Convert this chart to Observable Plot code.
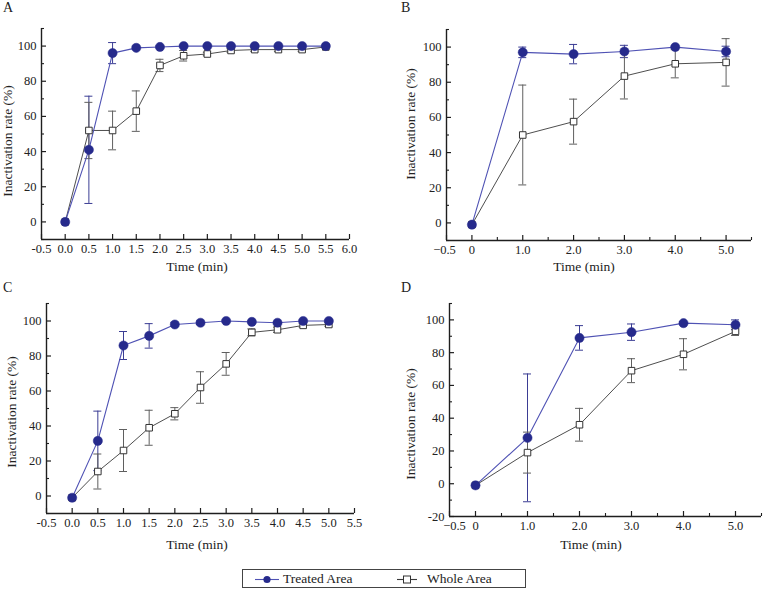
<!DOCTYPE html>
<html><head><meta charset="utf-8">
<script src="https://cdn.jsdelivr.net/npm/d3@7"></script>
<script src="https://cdn.jsdelivr.net/npm/@observablehq/plot@0.6"></script>
<style>
body{margin:0;background:#fff;}
#fig{position:relative;width:765px;height:591px;color:#222;overflow:hidden;}
#fig, #fig div, #fig svg, #fig svg text{font-family:"Liberation Serif","Tinos","Times New Roman","DejaVu Serif",serif !important;}
.abs{position:absolute;white-space:nowrap;}
.ctr{transform:translate(-50%,-50%);font-size:13.5px;line-height:14px;}
.rot{transform:translate(-50%,-50%) rotate(-90deg);font-size:13.5px;line-height:14px;}
.let{font-size:14px;line-height:14px;}
.leg{font-size:13.5px;line-height:16px;}
</style></head><body><div id="fig"></div>
<script>
// ---------- Data ----------
// Panel A
const timeA = [0,0.5,1,1.5,2,2.5,3,3.5,4,4.5,5,5.5];
const treatedA = [0,41,96,99,99.5,100,100,100,100,100,100,100];
const treatedErrA = [0,30.5,6,1,0.5,0.5,0.5,0.5,0.5,0.5,0.5,0.5];
const wholeA = [0,52,52,63,89,94.5,95.5,97.5,98,98,98,99.5];
const wholeErrA = [0,16,11,11.5,3.5,3,1,1,1,1,1,0.5];
// Panel B
const timeB = [0,1,2,3,4,5];
const treatedB = [-1,97,96,97.5,100,97.5];
const treatedErrB = [0,3,5.5,3.5,0.5,3];
const wholeB = [-1,50,57.6,83.5,90.5,91.3];
const wholeErrB = [0,28.4,12.8,13,8,13.5];
// Panel C
const timeC = [0,0.5,1,1.5,2,2.5,3,3.5,4,4.5,5];
const treatedC = [-1,31.5,86,91.5,98,99,100,99.5,99,100,100];
const treatedErrC = [0,17,8,7,1,1,0.5,0.5,0.5,0.5,0.5];
const wholeC = [-1,14,26,39,47,62,75.5,93.5,95,97.5,98];
const wholeErrC = [0,10,12,10,3.5,9,6.5,2,1.5,1,1];
// Panel D
const timeD = [0,1,2,3,4,5];
const treatedD = [-1,28,89,92.5,98,97];
const treatedErrD = [0,39,7.5,5,1,3];
const wholeD = [-1,19,36,69,79,93];
const wholeErrD = [0,12.5,10,7.3,9.5,2.5];

// Tick values and labels
const xTicksA = [-0.5,0,0.5,1,1.5,2,2.5,3,3.5,4,4.5,5,5.5,6];
const xLabelsA = ["-0.5","0.0","0.5","1.0","1.5","2.0","2.5","3.0","3.5","4.0","4.5","5.0","5.5","6.0"];
const xTicksC = [-0.5,0,0.5,1,1.5,2,2.5,3,3.5,4,4.5,5,5.5];
const xLabelsC = ["-0.5","0.0","0.5","1.0","1.5","2.0","2.5","3.0","3.5","4.0","4.5","5.0","5.5"];
const xTicksBD = [-0.5,0,1,2,3,4,5];
const xLabelsBD = ["\u22120.5","0","1.0","2.0","3.0","4.0","5.0"];
const xMinorBD = [0.5,1.5,2.5,3.5,4.5,5.5];
const yTicks = [0,20,40,60,80,100];
const yLabels = ["0","20","40","60","80","100"];
const yTicksD = [-20,0,20,40,60,80,100];
const yLabelsD = ["-20","0","20","40","60","80","100"];
const yMinor = [-10,10,30,50,70,90,110];

const seriesNames = ["Treated Area","Whole Area"];
const panelLetters = ["A","B","C","D"];
const xTitle = "Time (min)";
const yTitle = "Inactivation rate (%)";

// ---------- Styles ----------
const FONT = "'Liberation Serif','Tinos','Times New Roman','DejaVu Serif',serif";
const NAVY = "#262a8c", NAVY_LINE = "#4f52b4", NAVY_ERR = "#3b3d94";
const GRAY_LINE = "#3a3a3a", GRAY_ERR = "#5f5f5f", AXIS = "#1e1e1e";

function panel(cfg) {
  const {times, treated, treatedErr, whole, wholeErr, xDomain, yDomain,
         xTicks, xLabels, xMinor, yT, yL, width, height, m, firstLabelDx = 0} = cfg;
  const rows = (vals, errs) => times.map((t, i) => ({t, v: vals[i], e: errs[i], lo: vals[i] - errs[i], hi: vals[i] + errs[i]}));
  const T = rows(treated, treatedErr), W = rows(whole, wholeErr);
  const Te = T.filter(d => d.e > 0), We = W.filter(d => d.e > 0);
  const fh = height - m.top - m.bottom, fw = width - m.left - m.right;
  const caps = (data, stroke) => [
    Plot.ruleX(data, {x: "t", y1: "lo", y2: "hi", stroke, strokeWidth: 1}),
    Plot.ruleY(data, {y: "hi", x1: "t", x2: "t", insetLeft: -4, insetRight: -4, stroke, strokeWidth: 1}),
    Plot.ruleY(data, {y: "lo", x1: "t", x2: "t", insetLeft: -4, insetRight: -4, stroke, strokeWidth: 1})
  ];
  const fmtX = d => xLabels[xTicks.indexOf(d)];
  const svg = Plot.plot({
    width, height,
    marginLeft: m.left, marginRight: m.right, marginTop: m.top, marginBottom: m.bottom,
    x: {domain: xDomain}, y: {domain: yDomain},
    style: {fontFamily: FONT, fontSize: "12.5px", color: "#222", background: "transparent", overflow: "visible"},
    marks: [
      Plot.axisX({ticks: xTicks.slice(1), tickFormat: fmtX, tickSize: 0, tickPadding: 5, label: null, fontFamily: FONT}),
      Plot.axisX({ticks: xTicks.slice(0, 1), tickFormat: fmtX, tickSize: 0, tickPadding: 5, label: null, dx: firstLabelDx, fontFamily: FONT}),
      Plot.axisY({ticks: yT, tickFormat: d => yL[yT.indexOf(d)], tickSize: 0, tickPadding: 5, label: null, fontFamily: FONT}),
      Plot.tickX(xTicks, {x: d => d, insetTop: fh - 5, stroke: AXIS, strokeWidth: 1.2}),
      Plot.tickX(xMinor, {x: d => d, insetTop: fh - 3, stroke: AXIS, strokeWidth: 1.1}),
      Plot.tickY(yT, {y: d => d, insetRight: fw - 5, stroke: AXIS, strokeWidth: 1.2}),
      Plot.tickY(yMinor, {y: d => d, insetRight: fw - 3, stroke: AXIS, strokeWidth: 1.1}),
      Plot.ruleX([xDomain[0]], {stroke: AXIS, strokeWidth: 1.4}),
      Plot.ruleY([yDomain[0]], {stroke: AXIS, strokeWidth: 1.4}),
      ...caps(Te, NAVY_ERR),
      ...caps(We, GRAY_ERR),
      Plot.line(W, {x: "t", y: "v", stroke: GRAY_LINE, strokeWidth: 0.9}),
      Plot.line(T, {x: "t", y: "v", stroke: NAVY_LINE, strokeWidth: 1.1}),
      Plot.dot(W, {x: "t", y: "v", symbol: "square", r: 3.7, fill: "white", stroke: "#333", strokeWidth: 1}),
      Plot.dot(T, {x: "t", y: "v", r: 4.6, fill: NAVY, stroke: NAVY, strokeWidth: 0.5})
    ]
  });
  svg.style.position = "absolute";
  svg.style.left = cfg.left + "px";
  svg.style.top = cfg.top + "px";
  return svg;
}

const fig = document.getElementById("fig");
function addText(txt, x, y, cls) {
  const d = document.createElement("div");
  d.className = "abs " + cls;
  d.textContent = txt;
  d.style.left = x + "px";
  d.style.top = y + "px";
  fig.appendChild(d);
  return d;
}

fig.appendChild(panel({times: timeA, treated: treatedA, treatedErr: treatedErrA, whole: wholeA, wholeErr: wholeErrA,
  xDomain: [-0.5, 6], yDomain: [-10, 110], xTicks: xTicksA, xLabels: xLabelsA, xMinor: [], yT: yTicks, yL: yLabels,
  width: 380, height: 262, m: {left: 41, right: 31, top: 28, bottom: 23}, left: 0, top: 0}));
fig.appendChild(panel({times: timeB, treated: treatedB, treatedErr: treatedErrB, whole: wholeB, wholeErr: wholeErrB,
  xDomain: [-0.5, 5.5], yDomain: [-10, 110], xTicks: xTicksBD, xLabels: xLabelsBD, xMinor: xMinorBD, yT: yTicks, yL: yLabels,
  width: 385, height: 262, m: {left: 66, right: 14, top: 29, bottom: 22}, left: 380, top: 0, firstLabelDx: -2}));
fig.appendChild(panel({times: timeC, treated: treatedC, treatedErr: treatedErrC, whole: wholeC, wholeErr: wholeErrC,
  xDomain: [-0.5, 5.5], yDomain: [-10, 110], xTicks: xTicksC, xLabels: xLabelsC, xMinor: [], yT: yTicks, yL: yLabels,
  width: 380, height: 255, m: {left: 46, right: 26, top: 23, bottom: 22}, left: 0, top: 280}));
fig.appendChild(panel({times: timeD, treated: treatedD, treatedErr: treatedErrD, whole: wholeD, wholeErr: wholeErrD,
  xDomain: [-0.5, 5.5], yDomain: [-20, 110], xTicks: xTicksBD, xLabels: xLabelsBD, xMinor: xMinorBD, yT: yTicksD, yL: yLabelsD,
  width: 385, height: 255, m: {left: 69, right: 4, top: 23, bottom: 19}, left: 380, top: 280, firstLabelDx: 5}));

// Panel letters
addText(panelLetters[0], 3, 1, "let");
addText(panelLetters[1], 401, 1, "let");
addText(panelLetters[2], 3, 281, "let");
addText(panelLetters[3], 401, 281, "let");
// Axis titles
addText(xTitle, 197, 267, "ctr");
addText(xTitle, 584, 267, "ctr");
addText(xTitle, 197, 545, "ctr");
addText(xTitle, 591, 545, "ctr");
addText(yTitle, 8, 141, "rot");
addText(yTitle, 411, 124, "rot");
addText(yTitle, 12, 412, "rot");
addText(yTitle, 411, 424, "rot");

// Legend
const leg = document.createElement("div");
leg.className = "abs";
Object.assign(leg.style, {left: "242px", top: "569px", width: "284px", height: "19px", border: "1px solid #444", boxSizing: "border-box"});
fig.appendChild(leg);
const NS = "http://www.w3.org/2000/svg";
function swatch(x, w, kind) {
  const s = document.createElementNS(NS, "svg");
  s.setAttribute("width", w); s.setAttribute("height", 14);
  Object.assign(s.style, {position: "absolute", left: x + "px", top: "572px"});
  const l = document.createElementNS(NS, "line");
  l.setAttribute("x1", 0); l.setAttribute("x2", w); l.setAttribute("y1", 7.5); l.setAttribute("y2", 7.5);
  l.setAttribute("stroke", kind === "t" ? NAVY_LINE : GRAY_LINE); l.setAttribute("stroke-width", 1.1);
  s.appendChild(l);
  if (kind === "t") {
    const c = document.createElementNS(NS, "circle");
    c.setAttribute("cx", w / 2); c.setAttribute("cy", 7.5); c.setAttribute("r", 3.6); c.setAttribute("fill", NAVY);
    s.appendChild(c);
  } else {
    const r = document.createElementNS(NS, "rect");
    r.setAttribute("x", w / 2 - 3.5); r.setAttribute("y", 4); r.setAttribute("width", 7); r.setAttribute("height", 7);
    r.setAttribute("fill", "white"); r.setAttribute("stroke", "#333");
    s.appendChild(r);
  }
  fig.appendChild(s);
}
swatch(255, 24, "t");
swatch(397, 20, "w");
addText(seriesNames[0], 283, 571, "leg");
addText(seriesNames[1], 427, 571, "leg");
</script>
</body></html>
